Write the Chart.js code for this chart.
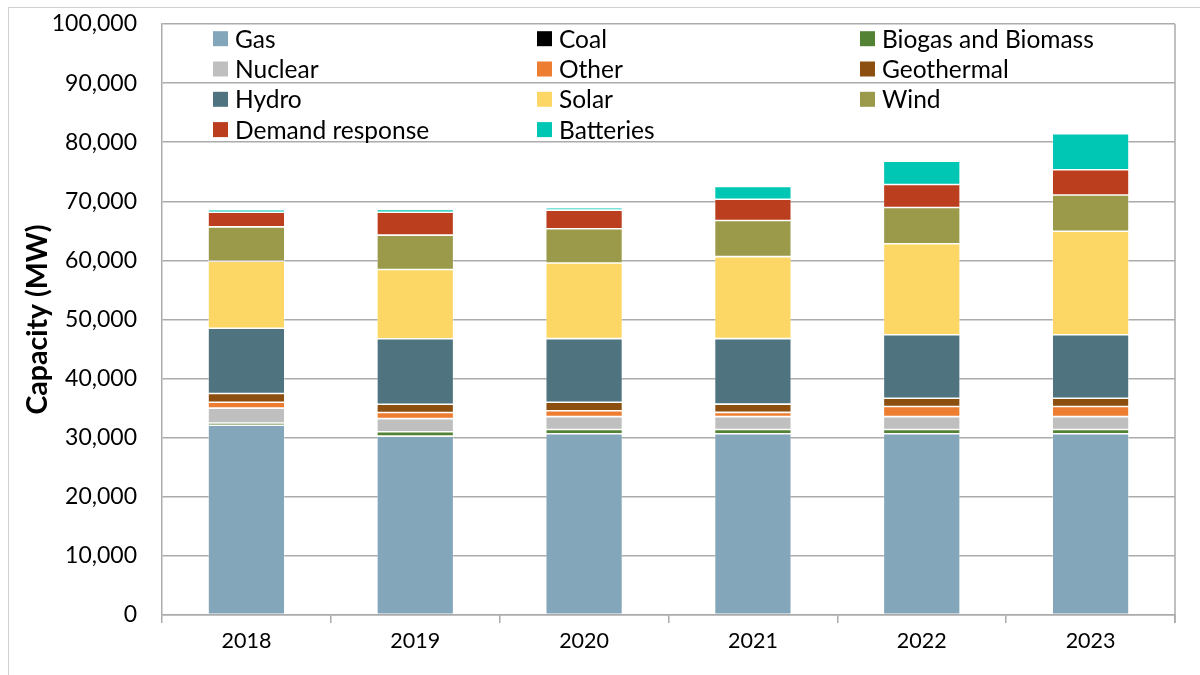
<!DOCTYPE html>
<html>
<head>
<meta charset="utf-8">
<script src="https://cdn.jsdelivr.net/npm/chart.js@4"></script>
<style>
  html, body { margin: 0; padding: 0; background: #fff; }
  #wrap { position: relative; width: 1200px; height: 675px; overflow: hidden; }
  #frame { position: absolute; left: 8px; top: 7px; width: 1300px; height: 800px; border: 1px solid #D0D0D0; box-sizing: border-box; pointer-events: none; }
  canvas { position: absolute; left: 0; top: 0; }
</style>
</head>
<body>
<div id="wrap">
  <div id="frame"></div>
  <canvas id="c" width="1200" height="675"></canvas>
</div>
<script>
const years = ['2018', '2019', '2020', '2021', '2022', '2023'];
const gas        = [32100, 30270, 30670, 30670, 30670, 30670];
const coal       = [0, 0, 0, 0, 0, 0];
const biogas     = [400, 730, 720, 720, 720, 720];
const nuclear    = [2500, 2220, 2170, 2170, 2170, 2170];
const other      = [1000, 1050, 1000, 720, 1730, 1730];
const geothermal = [1490, 1400, 1450, 1400, 1380, 1380];
const hydro      = [11040, 11080, 10750, 11080, 10750, 10750];
const solar      = [11350, 11700, 12790, 13880, 15400, 17520];
const wind       = [5800, 5820, 5810, 6120, 6120, 6130];
const demandResp = [2460, 3880, 3140, 3590, 3900, 4270];
const batteries  = [450, 450, 400, 2180, 3950, 6090];
const yTicks = [0, 10000, 20000, 30000, 40000, 50000, 60000, 70000, 80000, 90000, 100000];

const seriesNames = ['Gas', 'Coal', 'Biogas and Biomass', 'Nuclear', 'Other', 'Geothermal', 'Hydro', 'Solar', 'Wind', 'Demand response', 'Batteries'];
const seriesData = [gas, coal, biogas, nuclear, other, geothermal, hydro, solar, wind, demandResp, batteries];
const seriesColors = ['#84A6BA', '#000000', '#548235', '#BFBFBF', '#ED7D31', '#8C4F10', '#4F7480', '#FDD766', '#9A9A4A', '#BB3F1E', '#00C6B4'];

const FONT = "Lato, 'Open Sans', 'Liberation Sans', sans-serif";

const datasets = seriesNames.map((n, i) => ({
  label: n,
  data: seriesData[i],
  backgroundColor: seriesColors[i],
  borderColor: 'rgba(255,255,255,0.45)',
  borderWidth: 0.8,
  borderSkipped: false,
  categoryPercentage: 1.0,
  barPercentage: 0.455
}));

const legendPlugin = {
  id: 'gridLegend',
  afterDraw(chart) {
    const ctx = chart.ctx;
    const colX = [213, 537, 860];
    const rowY = [38.7, 69, 99.3, 129.6];
    ctx.save();
    ctx.font = "24.5px " + FONT;
    ctx.textBaseline = 'middle';
    ctx.textAlign = 'left';
    chart.data.datasets.forEach((ds, i) => {
      const col = i % 3, row = Math.floor(i / 3);
      const x = colX[col], y = rowY[row];
      ctx.fillStyle = ds.backgroundColor;
      ctx.fillRect(x, y - 7.5, 15, 15);
      ctx.fillStyle = '#000';
      ctx.fillText(ds.label, x + 22, y + 1);
    });
    ctx.restore();
  }
};

const frameLines = {
  id: 'frameLines',
  afterDraw(chart) {
    const { ctx, chartArea } = chart;
    ctx.save();
    ctx.strokeStyle = '#ABABAB';
    ctx.lineWidth = 1.5;
    ctx.beginPath();
    ctx.moveTo(chartArea.right, chartArea.top);
    ctx.lineTo(chartArea.right, chartArea.bottom + 8);
    ctx.stroke();
    ctx.restore();
  }
};

new Chart(document.getElementById('c'), {
  type: 'bar',
  data: { labels: years, datasets },
  options: {
    responsive: false,
    animation: false,
    layout: { padding: { left: 0, top: 24, right: 25, bottom: 0 } },
    plugins: {
      legend: { display: false },
      tooltip: { enabled: false }
    },
    scales: {
      x: {
        stacked: true,
        grid: {
          offset: true,
          drawOnChartArea: false,
          drawTicks: true,
          tickLength: 8,
          color: '#ABABAB',
          lineWidth: 1.5
        },
        border: { display: true, color: '#ABABAB', width: 1.5 },
        ticks: { color: '#000', font: { family: FONT, size: 21.5 }, padding: 5, maxRotation: 0 },
        afterFit(scale) { scale.height = 60; }
      },
      y: {
        stacked: true,
        min: 0,
        max: 100000,
        afterBuildTicks(scale) { scale.ticks = yTicks.map(v => ({ value: v })); },
        grid: { color: '#ABABAB', lineWidth: 1.5, drawTicks: true, tickLength: 25, tickColor: 'rgba(0,0,0,0)' },
        border: { display: true, color: '#ABABAB', width: 1.5 },
        ticks: {
          color: '#000',
          font: { family: FONT, size: 23 },
          padding: 0,
          callback: v => v.toLocaleString('en-US')
        },
        title: {
          display: true,
          text: 'Capacity (MW)',
          color: '#000',
          font: { family: FONT, size: 28.5, weight: 'bold' },
          padding: { top: 21, bottom: 0 }
        },
        afterFit(scale) { scale.width = 162; }
      }
    }
  },
  plugins: [legendPlugin, frameLines]
});
</script>
</body>
</html>
